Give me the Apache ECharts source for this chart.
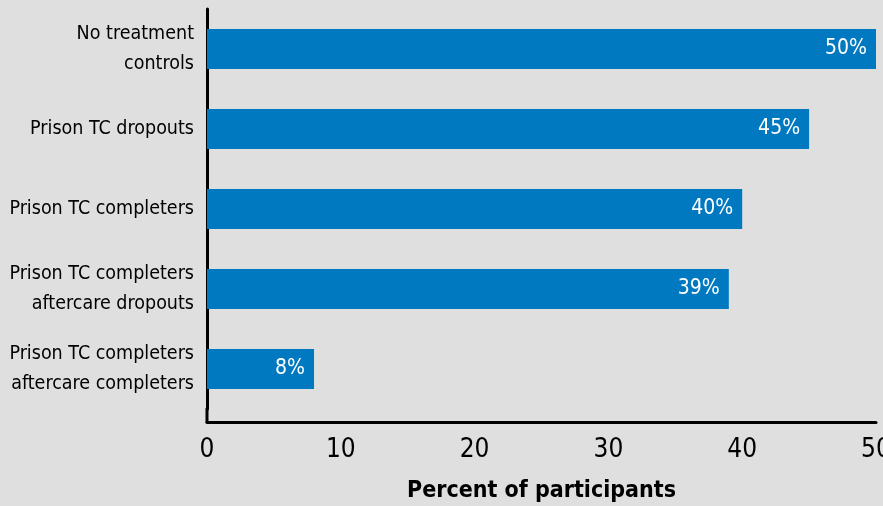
<!DOCTYPE html>
<html><head><meta charset="utf-8">
<script src="https://cdn.jsdelivr.net/npm/echarts@6/dist/echarts.min.js"></script>
<style>html,body{margin:0;padding:0;background:#dfdfdf}#c{width:883px;height:506px}</style>
</head><body><div id="c"></div>
<script>
const categories = ["No treatment\ncontrols", "Prison TC dropouts", "Prison TC completers", "Prison TC completers\naftercare dropouts", "Prison TC completers\naftercare completers"];
const values = [50, 45, 40, 39, 8];
const xTicks = [0, 10, 20, 30, 40, 50];
const FONT = "'Liberation Sans Narrow','DejaVu Sans Condensed','Arial Narrow',sans-serif";
const chart = echarts.init(document.getElementById('c'));
chart.setOption({
  backgroundColor: '#dfdfdf',
  animation: false,
  grid: {left: 207, right: 7, top: 9, bottom: 97, containLabel: false, outerBoundsMode: 'none'},
  graphic: [{type: 'line', shape: {x1: 207, y1: 408, x2: 207, y2: 423}, style: {stroke: '#000', lineWidth: 3}, z: 10}],
  xAxis: {
    type: 'value', min: xTicks[0], max: xTicks[xTicks.length-1], interval: 10, offset: 13,
    axisLine: {show: true, lineStyle: {color: '#000', width: 3}},
    axisTick: {show: false}, splitLine: {show: false},
    axisLabel: {color: '#000', fontFamily: FONT, fontSize: 26, margin: 15},
    name: 'Percent of participants', nameLocation: 'middle', nameGap: 58,
    nameTextStyle: {color: '#000', fontFamily: FONT, fontSize: 23, fontWeight: 'bold'}
  },
  yAxis: {
    type: 'category', inverse: true, data: categories,
    axisLine: {show: true, lineStyle: {color: '#000', width: 3}},
    axisTick: {show: false}, splitLine: {show: false},
    axisLabel: {color: '#000', fontFamily: FONT, fontSize: 19.5, lineHeight: 30, align: 'right', margin: 13}
  },
  series: [{
    type: 'bar', barWidth: 40,
    data: values,
    itemStyle: {color: '#0079c1'},
    label: {show: true, position: 'insideRight', distance: 9, color: '#fff',
      fontFamily: FONT, fontSize: 21, formatter: p => p.value + '%'}
  }]
});
</script></body></html>
